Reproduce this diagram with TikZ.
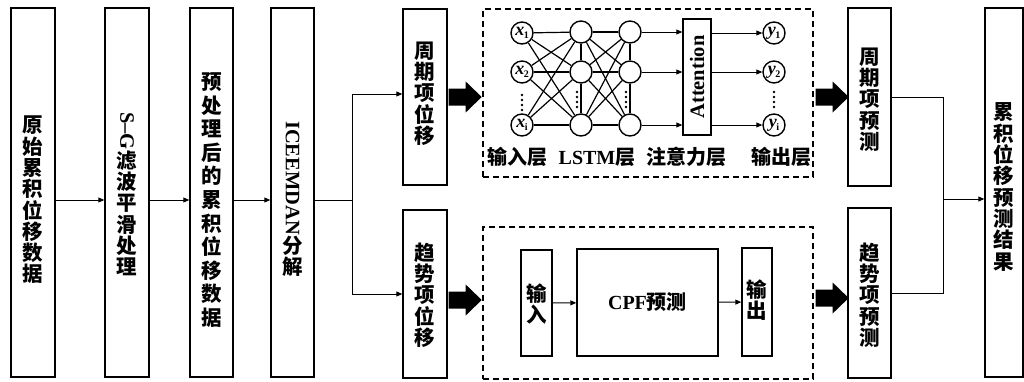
\documentclass[tikz,border=0pt]{standalone}
\usepackage{fontspec}
\setmainfont{Liberation Serif}
\newfontfamily\cjk{Noto Sans CJK SC}
\usetikzlibrary{arrows.meta}
\newcommand{\nlab}[2]{{\bfseries\itshape\fontsize{18}{18}\selectfont #1}\kern-0.5pt\raisebox{-3.5pt}{\bfseries\fontsize{10}{10}\selectfont #2}}
\begin{document}
\begin{tikzpicture}[x=1pt,y=-1pt,
  rect/.style={draw,line width=1.4pt,inner sep=0pt},
  dbox/.style={draw,line width=1.3pt,dash pattern=on 6pt off 4pt,inner sep=0pt},
  vt/.style={font=\cjk\bfseries\fontsize{20.5}{21.3}\selectfont,align=center,inner sep=0pt},
  vtw/.style={font=\cjk\bfseries\fontsize{20.5}{23.6}\selectfont,align=center,inner sep=0pt},
  lbl/.style={font=\bfseries\fontsize{20}{20}\selectfont,inner sep=0pt},
  thin/.style={line width=0.9pt},
  conn/.style={line width=0.9pt,-{Triangle[length=6pt,width=5pt]}},
  neuron/.style={circle,draw,line width=1.4pt,minimum size=22pt,inner sep=0pt},
  net/.style={line width=1.2pt},
  fatarrow/.pic={\fill (0,-8.5) -- ++(17,0) -- ++(0,-7) -- ++(16,15.5) -- ++(-16,15.5) -- ++(0,-7) -- ++(-17,0) -- cycle;}]
\useasboundingbox (0,0) rectangle (1024,381);
\coordinate (row) at (0,200);
% main boxes
\node[rect,minimum width=44pt,minimum height=369pt] (b1) at (33,192.5) {};
\node[vt] (b1t) at (33,200) {原\\始\\累\\积\\位\\移\\数\\据};
\node[rect,minimum width=44pt,minimum height=369pt] (b2) at (127,192.5) {};
\node[vt] (b2t) at (127,194) {\rotatebox{-90}{\rmfamily S--G}\\滤\\波\\平\\滑\\处\\理};
\node[rect,minimum width=43pt,minimum height=369pt] (b3) at (211.5,192.5) {};
\node[vtw] (b3t) at (211.5,200) {预\\处\\理\\后\\的\\累\\积\\位\\移\\数\\据};
\node[rect,minimum width=43pt,minimum height=369pt] (b4) at (292.5,192.5) {};
\node[vt] (b4t) at (292.5,199) {\rotatebox{-90}{\rmfamily ICEEMDAN}\\分\\解};
\node[rect,minimum width=44pt,minimum height=176pt] (p1) at (425,97) {};
\node[vt] (p1t) at (425,93.5) {周\\期\\项\\位\\移};
\node[rect,minimum width=44pt,minimum height=168pt] (t1) at (425,294) {};
\node[vt] (t1t) at (425,295) {趋\\势\\项\\位\\移};
\node[dbox,minimum width=330pt,minimum height=168pt] (d1) at (648,93) {};
\node[dbox,minimum width=330pt,minimum height=152pt] (d2) at (648,303) {};
\node[rect,minimum width=43pt,minimum height=178pt] (p2) at (869.5,97) {};
\node[vt] (p2t) at (869.5,99.5) {周\\期\\项\\预\\测};
\node[rect,minimum width=43pt,minimum height=170pt] (t2) at (869.5,293) {};
\node[vt] (t2t) at (869.5,295) {趋\\势\\项\\预\\测};
\node[rect,minimum width=38pt,minimum height=369pt] (fin) at (1004,192.5) {};
\node[vt] (fint) at (1004,187) {累\\积\\位\\移\\预\\测\\结\\果};
% network
\node[neuron] (x1) at (522,33) {\nlab{x}{1}};
\node[neuron] (x2) at (522,72) {\nlab{x}{2}};
\node[neuron] (x3) at (522,125) {\nlab{x}{i}};
\node[neuron] (h1) at (581,32) {};
\node[neuron] (h2) at (581,72) {};
\node[neuron] (h3) at (581,125) {};
\node[neuron] (g1) at (630,32) {};
\node[neuron] (g2) at (630,72) {};
\node[neuron] (g3) at (630,125) {};
\node[rect,minimum width=28pt,minimum height=116pt] (att) at (697,77) {\rotatebox{90}{\bfseries\fontsize{20.5}{20}\selectfont Attention}};
\node[neuron] (o1) at (774,33) {\nlab{y}{1}};
\node[neuron] (o2) at (774,72) {\nlab{y}{2}};
\node[neuron] (o3) at (774,125) {\nlab{y}{i}};
\foreach \a in {1,2,3}{\foreach \b in {1,2,3}{\draw[net] (x\a) -- (h\b); \draw[net] (h\a) -- (g\b);}}
\draw[net] (h1) -- (h2); \draw[net] (h2) -- (h3);
\draw[net] (g1) -- (g2); \draw[net] (g2) -- (g3);
\foreach \a in {1,2,3}{\draw[conn] (g\a) -- (att.west |- g\a); \draw[conn] (att.east |- o\a) -- (o\a);}
\foreach \yy in {95,100,105,110}{\fill (522,\yy) circle (1.4pt);}
\foreach \yy in {92,97,102,107}{\fill (577,\yy) circle (1.4pt); \fill (626,\yy) circle (1.4pt); \fill (774,\yy) circle (1.4pt);}
\node[lbl] (l1) at (517,157) {\cjk 输入层};
\node[lbl] (l2) at (597,157) {LSTM{\cjk 层}};
\node[lbl] (l3) at (686,157) {\cjk 注意力层};
\node[lbl] (l4) at (781,157) {\cjk 输出层};
% lower module
\node[rect,minimum width=31pt,minimum height=106pt] (inb) at (536.5,303) {};
\node[vt] (inbt) at (536.5,304) {输\\入};
\node[rect,minimum width=141pt,minimum height=107pt] (cpf) at (647.5,302.5) {\bfseries\fontsize{20}{20}\selectfont CPF{\cjk 预测}};
\node[rect,minimum width=30pt,minimum height=108pt] (outb) at (757,302) {};
\node[vt] (outbt) at (757,300) {输\\出};
\draw[conn] (inb) -- (cpf);
\draw[conn] (cpf) -- (outb);
% connectors
\draw[conn] (b1.east |- row) -- (b2.west |- row);
\draw[conn] (b2.east |- row) -- (b3.west |- row);
\draw[conn] (b3.east |- row) -- (b4.west |- row);
\coordinate (br) at (352,200);
\draw[thin] (b4.east |- row) -- (br);
\draw[conn] (br) |- ([yshift=3pt]p1.west);
\draw[conn] (br) |- (t1.west);
\coordinate (mg) at (943,199);
\draw[thin] (p2.east) -| (mg);
\draw[thin] (t2.east) -| (mg);
\draw[conn] (mg) -- (fin.west |- mg);
% fat arrows
\coordinate (fa) at (0,300);
\coordinate (fb) at (0,298);
\pic at ([xshift=1pt]p1.east) {fatarrow};
\pic at ([xshift=1pt]t1.east |- fa) {fatarrow};
\pic at ([xshift=2pt]d1.east |- p2.east) {fatarrow};
\pic at ([xshift=2pt]d2.east |- fb) {fatarrow};
\end{tikzpicture}
\end{document}
